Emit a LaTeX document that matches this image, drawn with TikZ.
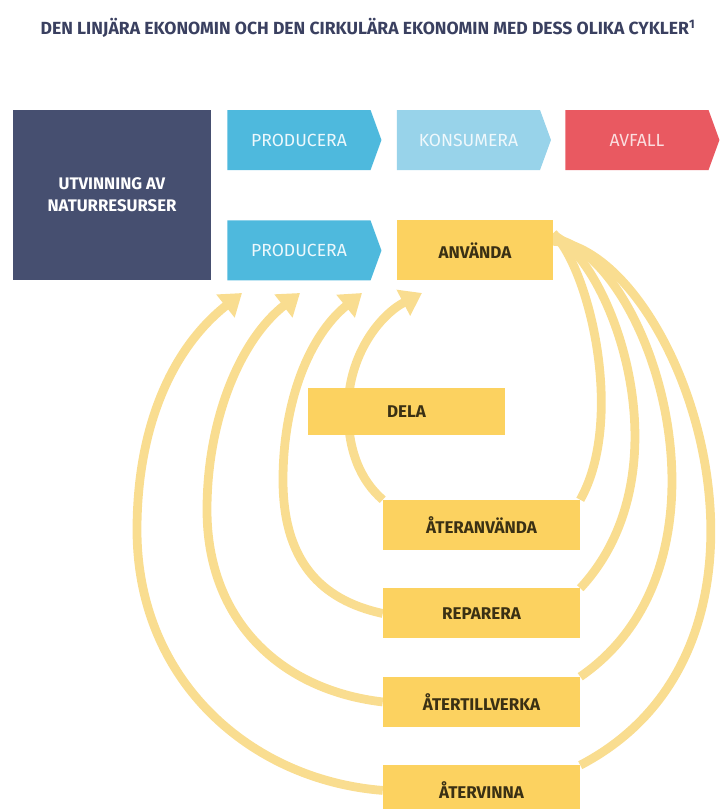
\documentclass[tikz,border=0pt]{standalone}
\usepackage{fontspec}
\setmainfont{Fira Sans}
\usepackage{xcolor}
\usetikzlibrary{arrows.meta,shapes.symbols,positioning,backgrounds}

\definecolor{navy}{RGB}{70,79,112}
\definecolor{titleink}{RGB}{58,64,96}
\definecolor{skyblue}{RGB}{78,185,221}
\definecolor{paleblue}{RGB}{152,211,234}
\definecolor{wastered}{RGB}{233,89,97}
\definecolor{sunbox}{RGB}{252,210,96}
\definecolor{sunloop}{RGB}{249,221,144}
\definecolor{boxink}{RGB}{58,48,20}

\begin{document}
\begin{tikzpicture}[x=0.03cm,y=-0.03cm]
	\tikzstyle{sourcebox}=[fill=navy, text=white, minimum width=5.94cm, minimum height=5.1cm, inner sep=0pt, align=center, font=\bfseries\fontsize{14.3}{19}\selectfont]
	\tikzstyle{chevron}=[signal, signal to=east, signal pointer angle=140, minimum width=4.62cm, minimum height=1.8cm, inner sep=0pt, font=\fontsize{15}{18}\selectfont]
	\tikzstyle{usebox}=[fill=sunbox, text=boxink, minimum width=4.68cm, minimum height=1.8cm, inner sep=0pt, font=\bfseries\fontsize{14.5}{17}\selectfont]
	\tikzstyle{cyclebox}=[usebox, minimum width=5.91cm, minimum height=1.5cm]
	\tikzstyle{loop}=[draw=sunloop, line width=7.5pt]
	\tikzstyle{back}=[loop, -{Triangle[width=24pt,length=18pt]}]

	\useasboundingbox (0,0) rectangle (722,809);

	\node (title) at (368,28) [text=titleink, font=\bfseries\fontsize{15}{18}\selectfont] {DEN LINJÄRA EKONOMIN OCH DEN CIRKULÄRA EKONOMIN MED DESS OLIKA CYKLER\textsuperscript{1}};

	% linjär kedja
	\node [sourcebox] (utv) at (112,195) {UTVINNING AV\\NATURRESURSER};
	\node [chevron, fill=skyblue, text=white!90!skyblue] (prod1) at (299,140) {PRODUCERA};
	\node [chevron, fill=paleblue, text=white!85!paleblue] (kons) [right=0.45cm of prod1] {KONSUMERA};
	\node [chevron, fill=wastered, text=white!80!wastered] (avfall) [right=0.42cm of kons] {AVFALL};

	% cirkulär kedja
	\node [chevron, fill=skyblue, text=white!90!skyblue] (prod2) [below=1.5cm of prod1] {PRODUCERA};
	\node [usebox] (anv) [right=0.45cm of prod2] {ANVÄNDA};

	\node [cyclebox, minimum height=1.41cm] (dela) at (406.5,411.5) {DELA};
	\node [cyclebox] (ateranv) at (481.5,525) {ÅTERANVÄNDA};
	\node [cyclebox] (rep) [below=1.14cm of ateranv] {REPARERA};
	\node [cyclebox] (atertill) [below=1.14cm of rep] {ÅTERTILLVERKA};
	\node [cyclebox] (atervinna) [below=1.14cm of atertill] {ÅTERVINNA};

	\coordinate (tipA) at (422,293);
	\coordinate (tipB) at (362,293);
	\coordinate (tipC) at (300,293);
	\coordinate (tipD) at (242,293);

	\begin{scope}[on background layer]
		% ut från använda
		\draw [loop] ([yshift=-0.39cm]anv.north east) .. controls (590,270) and (625,420) .. (ateranv.north east);
		\draw [loop] ([yshift=-0.45cm]anv.north east) .. controls (610,260) and (690,470) .. (rep.north east);
		\draw [loop] ([yshift=-0.54cm]anv.north east) .. controls (650,255) and (750,560) .. (atertill.north east);
		\draw [loop] ([yshift=-0.63cm]anv.north east) .. controls (680,250) and (820,640) .. (atervinna.north east);

		% tillbaka
		\draw [back] (ateranv.north west) .. controls (360,480) and (348,450) .. (348,410) .. controls (348,355) and (380,315) .. (tipA);
		\draw [back] (rep.west) .. controls (320,600) and (283,560) .. (283,480) .. controls (283,400) and (310,335) .. (tipB);
		\draw [back] (atertill.west) .. controls (280,690) and (207,620) .. (207,510) .. controls (207,420) and (240,340) .. (tipC);
		\draw [back] (atervinna.west) .. controls (250,780) and (137,680) .. (137,530) .. controls (137,430) and (170,350) .. (tipD);
	\end{scope}
\end{tikzpicture}
\end{document}
